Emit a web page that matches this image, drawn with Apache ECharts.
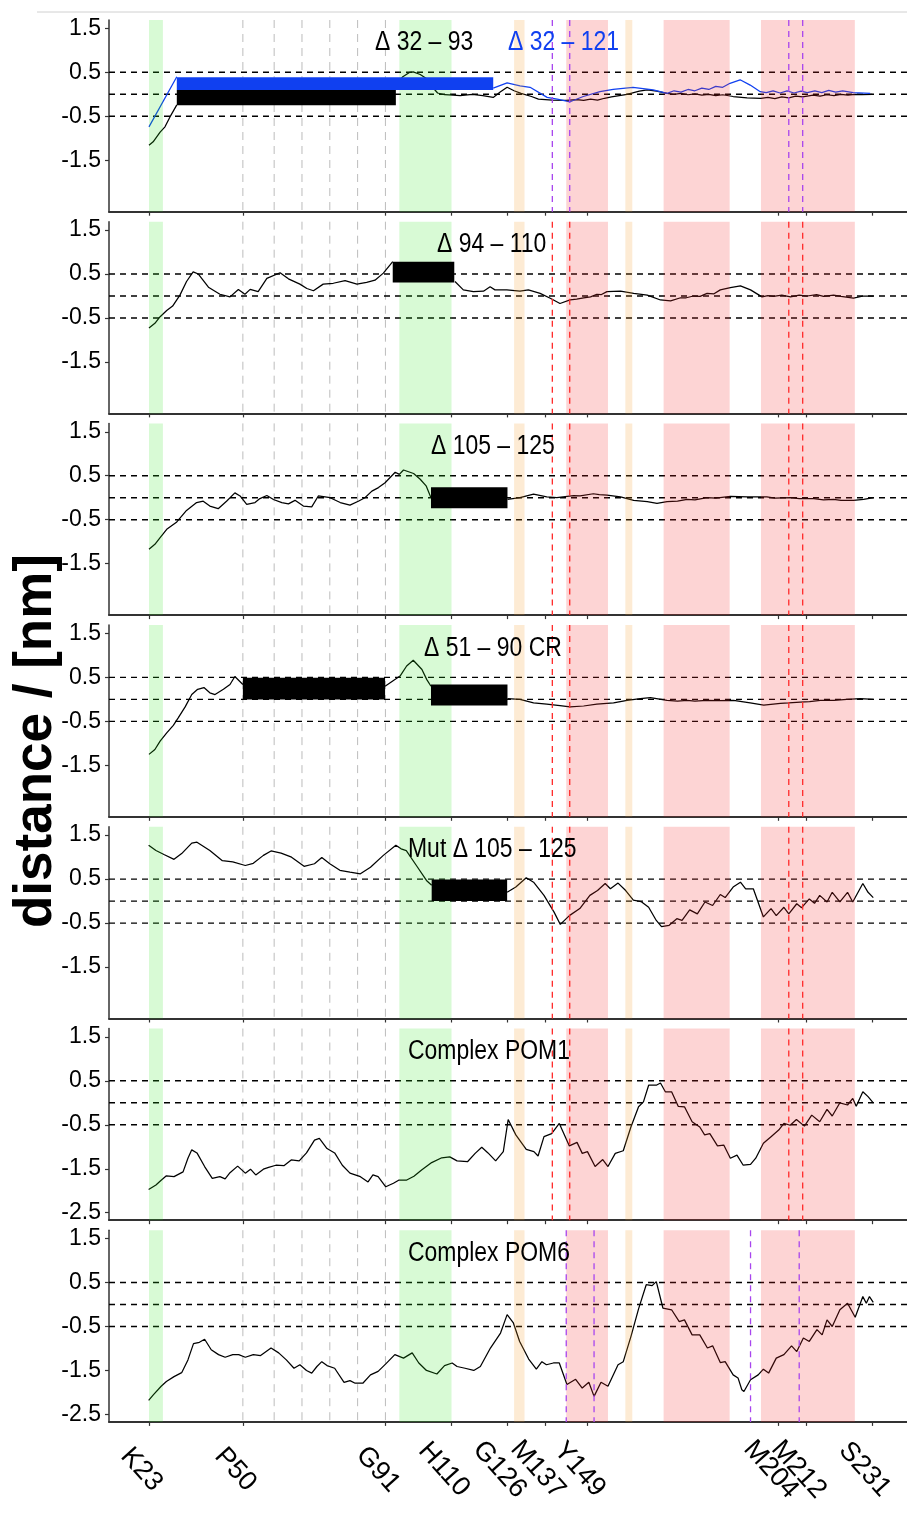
<!DOCTYPE html>
<html><head><meta charset="utf-8">
<script src="https://cdn.jsdelivr.net/npm/echarts@6/dist/echarts.min.js"></script>
<style>html,body{margin:0;padding:0;background:#fff}#c{width:907px;height:1516px}</style>
</head><body><div id="c"></div>
<script>
// ---------- data ----------
const tickResidues = [23,50,91,110,126,137,149,204,212,231];
const tickNames = ['K23','P50','G91','H110','G126','M137','Y149','M204','M212','S231'];
const yTicks = [1.5,0.5,-0.5,-1.5];
const yTicksPOM = [1.5,0.5,-0.5,-1.5,-2.5];
const refLines = [0.5,0,-0.5];
const octarepeats = [50,59,67,75,83,91];
const greenBands = [[23,27],[95,110]];
const orangeBands = [[128,131],[160,162]];
const pinkBands = [[143,155],[171,190],[199,226]];
const markersA = [139,144,207,211];
const markersB = [143,151,196,210];
const panelTitles = ['Δ 32 – 93','Δ 94 – 110','Δ 105 – 125','Δ 51 – 90 CR','Mut Δ 105 – 125','Complex POM1','Complex POM6'];
const blueTitle = 'Δ 32 – 121';

const p1Black = [[23,-1.16],[24.2,-1.08],[26.2,-0.86],[27.6,-0.74],[29,-0.52],[31,-0.24],[62,null],
 [94,0.2],[96,0.4],[98,0.5],[99,0.51],[101,0.45],[103,0.35],[105,0.12],[106,0.03],[108,-0.01],[110.5,-0.02],[112.5,-0.03],[116,0.0],[119,-0.03],[122,-0.07],[124,0.05],[126,0.16],[128,0.08],[130,0.02],[133,-0.05],[135,-0.11],[139,-0.13],[143,-0.14],[146,-0.12],[148,-0.14],[150,-0.11],[152,-0.13],[154,-0.09],[156,-0.06],[160.5,0.0],[164,0.07],[166.3,0.1],[169,0.07],[172,0.02],[174,0.0],[176,0.02],[178,-0.01],[180,0.01],[182,-0.02],[184,0.0],[186,-0.03],[188,-0.01],[191,-0.05],[195,-0.08],[199,-0.09],[201,-0.07],[203,-0.1],[205,-0.06],[207,-0.08],[209,-0.04],[211,-0.06],[214,-0.02],[216,-0.04],[218,-0.01],[220,-0.03],[222,0.0],[224,-0.02],[226,0.0],[228,-0.01],[231,0.0]];
const p1Blue = [[23,-0.74],[31,0.4],[76,null],
 [122,0.14],[126,0.26],[129.7,0.19],[132.6,0.16],[137.5,-0.07],[140.4,-0.11],[144.1,-0.17],[147.9,-0.05],[152.7,0.06],[156.5,0.11],[162.2,0.16],[168,0.1],[172,0.02],[174,0.08],[176,0.05],[178,0.11],[180,0.08],[182,0.14],[184,0.11],[186,0.18],[188,0.16],[190.1,0.25],[193,0.33],[195.9,0.21],[198.8,0.06],[200.5,0.04],[202.5,0.08],[204.5,0.03],[206.5,0.08],[208.5,0.03],[210.5,0.07],[212.3,0.04],[214.5,0.08],[216.5,0.04],[218.5,0.09],[220.5,0.05],[222.5,0.08],[225.5,0.04],[230.4,0.02]];
const p2Line = [[23,-0.73],[24.7,-0.62],[26.2,-0.47],[28.1,-0.33],[29.8,-0.23],[31.9,0.02],[33.8,0.33],[35.7,0.55],[37.2,0.5],[40.1,0.2],[43.4,0.04],[46.3,-0.02],[48.7,0.15],[50.6,0.04],[52.1,0.15],[54.4,0.1],[56.9,0.4],[60.7,0.53],[63.1,0.39],[66.4,0.27],[68.4,0.17],[70.3,0.12],[73.1,0.27],[76,0.29],[79.4,0.35],[82.8,0.27],[85.6,0.31],[88,0.36],[90.4,0.52],[93.1,0.78],[102,null],
 [111,0.33],[113.4,0.14],[116.3,0.1],[119.2,0.11],[121.1,0.21],[122.5,0.14],[125.9,0.14],[129.7,0.11],[132.1,0.14],[135.5,0.06],[138.4,-0.05],[141.2,-0.17],[144.1,-0.09],[146,-0.07],[148,-0.04],[150,-0.02],[151.8,0.04],[153,0.03],[154.7,0.1],[158.6,0.11],[162.4,0.06],[166.3,0.02],[170.1,-0.09],[173,-0.11],[175.9,-0.04],[177.5,-0.04],[179.6,0],[181.5,-0.01],[183.5,0.06],[185.5,0.05],[187.3,0.14],[190.2,0.19],[193.1,0.23],[196,0.14],[199.3,-0.02],[201,0.01],[202.6,-0.01],[205,0.02],[207.5,-0.02],[210,0.02],[212.3,0.0],[215,0.03],[217,-0.01],[219.9,0.02],[222,-0.01],[225.6,-0.05],[228.5,0],[231.4,0]];
const p3Line = [[23,-1.17],[24.7,-1.06],[26.2,-0.91],[28.1,-0.72],[31,-0.55],[33.8,-0.29],[36.7,-0.11],[38.6,-0.08],[40.5,-0.19],[42.9,-0.25],[45.3,-0.08],[47.7,0.11],[49.2,0.04],[51.1,-0.15],[53.5,-0.11],[54.9,-0.02],[56.9,0.05],[58.8,-0.04],[61.2,-0.11],[63.1,-0.14],[65,-0.06],[67.4,-0.19],[69.8,-0.21],[71.7,0.04],[75.1,0],[78,-0.11],[80.8,-0.17],[83.2,-0.08],[85.1,0],[87.1,0.15],[89,0.23],[90.9,0.34],[93.8,0.58],[95,0.53],[96.2,0.63],[99.1,0.55],[101,0.42],[102.7,0.27],[104.1,0],[115,null],
 [126.1,-0.04],[129.7,0],[133.6,0.08],[137.4,0.02],[140.3,0],[145.1,0.05],[147,0.04],[150.8,0.09],[152.5,0.07],[154.7,0.06],[158.6,0.02],[162.4,-0.06],[166.3,-0.09],[169.1,-0.13],[172,-0.09],[175,-0.08],[177.8,-0.04],[180,-0.05],[183.5,0],[186,-0.01],[190.2,0.03],[195,0.02],[200.7,0.02],[203,-0.01],[207.5,0],[210,-0.02],[214.2,-0.02],[217,-0.05],[219.9,-0.04],[222,-0.06],[225.6,-0.06],[228.5,-0.04],[231.4,0]];
const p4Line = [[23,-1.25],[24.7,-1.14],[26.2,-0.95],[28.1,-0.76],[30,-0.59],[31.4,-0.42],[33.4,-0.17],[35.3,0.11],[37,0.23],[38.8,0.27],[40.5,0.15],[42,0.11],[44.4,0.23],[46.3,0.34],[47.7,0.52],[50,0.34],[70,null],
 [90.9,0.3],[93.1,0.42],[95.2,0.53],[97.1,0.76],[99,0.89],[101.5,0.68],[102.9,0.45],[104.1,0.3],[115,null],
 [126.1,0.02],[129.7,0],[133.6,-0.08],[137.4,-0.11],[141.2,-0.14],[144.1,-0.17],[148,-0.15],[151.8,-0.11],[156.6,-0.08],[160.5,-0.02],[164.3,0.02],[167.2,0.04],[172,-0.02],[175,-0.04],[177.8,-0.02],[180,-0.04],[183.5,-0.02],[187,-0.03],[191.1,-0.02],[195.9,-0.08],[199.8,-0.13],[204.6,-0.09],[207,-0.08],[210.3,-0.06],[213,-0.05],[216.1,-0.02],[220,-0.02],[223.7,0],[227.6,0.02],[231.4,0]];
const p5Line = [[22.9,1.27],[25,1.15],[27.3,1.06],[30.2,0.95],[32.4,1.08],[35.3,1.32],[36.8,1.34],[40.5,1.15],[44.1,0.92],[47.1,0.89],[50.7,0.81],[53,0.86],[55.9,1.04],[58.1,1.14],[61,1.09],[64,1.0],[67.6,0.79],[70.6,0.85],[72.7,0.99],[75,0.85],[77.9,0.7],[80.8,0.66],[83.8,0.62],[86.7,0.77],[90.4,1.04],[94,1.27],[95.5,1.19],[97,1.15],[99.9,0.81],[102.8,0.47],[104.3,0.36],[115,null],
 [126,0.2],[128.5,0.32],[131.5,0.53],[133.6,0.43],[136.6,0.13],[139.5,-0.25],[141.3,-0.53],[143.9,-0.33],[146.9,-0.17],[149.8,0.13],[152,0.24],[154.2,0.4],[155.7,0.28],[157.9,0.41],[160.1,0.24],[162.3,0.02],[164.5,-0.01],[166.7,-0.14],[168.9,-0.44],[170.4,-0.58],[172.6,-0.55],[174.8,-0.4],[176.3,-0.44],[178.5,-0.2],[180.7,-0.29],[182.9,-0.02],[185.1,-0.1],[187.3,0.15],[188.7,0.08],[191,0.32],[193.1,0.43],[194.6,0.28],[196.8,0.28],[199.7,-0.36],[201.9,-0.17],[203.4,-0.33],[205.6,-0.14],[207,-0.29],[209.3,-0.06],[210.7,-0.15],[212.9,0.05],[214.4,-0.05],[215.9,0.13],[218,-0.02],[219.5,0.2],[221.7,-0.02],[223.9,0.2],[225.4,-0.02],[228.3,0.4],[229.8,0.2],[231.3,0.08]];
const p6Line = [[22.9,-1.97],[25,-1.87],[26.5,-1.76],[28,-1.66],[30.2,-1.68],[32.8,-1.57],[34.2,-1.26],[35.3,-1.07],[36.8,-1.14],[39,-1.45],[41.2,-1.72],[43.4,-1.68],[44.9,-1.73],[46.3,-1.59],[48.5,-1.44],[50.7,-1.6],[52.2,-1.51],[53.7,-1.64],[55.9,-1.51],[57.4,-1.47],[59.5,-1.42],[61.8,-1.43],[63.9,-1.3],[66.2,-1.32],[68.3,-1.14],[70.6,-0.85],[72,-0.81],[74.2,-1.04],[76.4,-1.14],[78.6,-1.42],[80.8,-1.6],[83.8,-1.68],[86,-1.8],[87.4,-1.64],[88.9,-1.68],[91.1,-1.91],[93.3,-1.83],[94.8,-1.76],[97,-1.76],[99.2,-1.67],[101.4,-1.53],[104.3,-1.36],[107.2,-1.25],[109.5,-1.23],[111.6,-1.32],[114.6,-1.34],[116.8,-1.15],[118.7,-1.01],[120.5,-1.14],[122.7,-1.32],[124.9,-1.11],[126.3,-0.38],[128.5,-0.73],[131.5,-1.06],[133.7,-1.11],[134.9,-1.21],[136.6,-0.77],[138.8,-0.7],[141,-0.47],[143.9,-0.98],[146.1,-0.9],[147.6,-1.15],[149.1,-1.11],[151.3,-1.45],[153.5,-1.29],[155,-1.45],[157.1,-1.15],[159.4,-1.09],[161.6,-0.55],[163.8,-0.09],[165.2,0.02],[166.7,0.4],[168.9,0.4],[170.1,0.45],[171.5,0.25],[173.3,0.25],[175.2,-0.08],[177,-0.09],[179.2,-0.43],[181.4,-0.55],[182.8,-0.73],[184.3,-0.7],[186.5,-0.98],[188.3,-0.96],[190.2,-1.26],[192.1,-1.19],[193.9,-1.42],[196,-1.4],[197.5,-1.26],[199.7,-0.92],[201.9,-0.77],[204.1,-0.62],[205.6,-0.47],[207.4,-0.51],[209.2,-0.38],[211.5,-0.53],[213.6,-0.28],[215.9,-0.43],[218,-0.15],[219.5,-0.3],[221.7,0],[223.9,-0.05],[225.4,0.1],[226.4,-0.08],[228.3,0.25],[229.8,0.14],[231.3,0]];
const p7Line = [[22.9,-2.18],[24.3,-2.05],[26.5,-1.86],[28,-1.75],[30.2,-1.64],[32.4,-1.55],[34.2,-1.26],[35.8,-0.89],[37.5,-0.86],[39,-0.79],[40.9,-1.03],[43,-1.14],[44.9,-1.2],[47.1,-1.14],[48.8,-1.14],[50.7,-1.2],[53,-1.14],[55.1,-1.16],[58.1,-0.99],[60.3,-1.1],[62.5,-1.26],[64.7,-1.45],[66.4,-1.37],[68.3,-1.5],[69.8,-1.56],[71.3,-1.41],[72.7,-1.3],[74.2,-1.39],[76.4,-1.45],[79.1,-1.77],[80.8,-1.73],[82.3,-1.79],[84.5,-1.79],[86.7,-1.6],[88.9,-1.52],[91.1,-1.35],[93.7,-1.14],[96.2,-1.22],[98.7,-1.1],[100.6,-1.33],[102.8,-1.5],[105.8,-1.58],[108,-1.39],[110.2,-1.33],[111.6,-1.41],[113.9,-1.45],[116.4,-1.5],[118.3,-1.41],[121.2,-0.99],[124.1,-0.65],[126,-0.23],[127.8,-0.42],[129.6,-0.84],[132.2,-1.24],[134.4,-1.47],[136,-1.3],[137.3,-1.37],[139.3,-1.33],[141,-1.33],[143.2,-1.82],[145.7,-1.7],[147.6,-1.9],[149.5,-1.77],[151,-2.09],[153,-1.77],[155,-1.86],[157.9,-1.37],[159.4,-1.3],[161.6,-0.73],[163.8,-0.1],[166,0.45],[167.7,0.43],[168.9,0.52],[170.8,-0.08],[173.3,-0.12],[175.5,-0.39],[177,-0.35],[179.2,-0.69],[181.4,-0.69],[183.6,-0.99],[185.1,-0.94],[187.3,-1.32],[188.7,-1.3],[191,-1.6],[192.4,-1.67],[193.5,-1.94],[194.1,-1.98],[196,-1.71],[198.2,-1.6],[199.7,-1.47],[201.2,-1.56],[203.4,-1.22],[205.6,-1.14],[207.8,-0.94],[209.3,-1.07],[211.2,-0.76],[212.9,-0.84],[215.1,-0.57],[216.6,-0.69],[218,-0.35],[219.5,-0.5],[221.7,-0.12],[223.9,0.03],[226.1,-0.29],[228.3,0.18],[229.3,0.03],[230.2,0.18],[231.3,0.05]];

// deletion boxes: [fromResidue, toResidue, lowValue, highValue]
const p1BlackBoxes = [[31,94,-0.25,0.1]];
const p1BlueBoxes = [[31,122,0.1,0.39]];
const p2Boxes = [[93.1,110.8,0.31,0.78]];
const p3Boxes = [[104.1,126.1,-0.24,0.24]];
const p4Boxes = [[50,90.9,0,0.49],[104.1,126.1,-0.14,0.34]];
const p5Boxes = [[104.3,126,0,0.49]];

// ---------- chart ----------
const FONT = '"Liberation Sans", Arial, Helvetica, sans-serif';
const panelLines = [p1Black, p2Line, p3Line, p4Line, p5Line, p6Line, p7Line];
const panelBoxes = [p1BlackBoxes, p2Boxes, p3Boxes, p4Boxes, p5Boxes, [], []];
const N = 7, TOP0 = 20, PITCH = 201.7, H = 191.7, LEFT = 109, W = 798;
const RED = '#ff2a2a', PURPLE = '#a845ee', BLUE = '#1040f0';

const grids = [], xAxes = [], yAxes = [], series = [];

function bandSeries(i, data, color) {
  return {
    type: 'custom', xAxisIndex: i, yAxisIndex: i, z: 3, silent: true, animation: false,
    data: data,
    renderItem: function (params, api) {
      const a = api.coord([api.value(0), 0]);
      const b = api.coord([api.value(1), 0]);
      const cs = params.coordSys;
      return { type: 'rect', shape: { x: a[0], y: cs.y, width: b[0] - a[0], height: cs.height }, style: { fill: color } };
    }
  };
}
function boxSeries(i, data, color) {
  return {
    type: 'custom', xAxisIndex: i, yAxisIndex: i, z: 4, silent: true, animation: false,
    data: data,
    renderItem: function (params, api) {
      const a = api.coord([api.value(0), api.value(3)]);
      const b = api.coord([api.value(1), api.value(2)]);
      return { type: 'rect', shape: { x: a[0], y: a[1], width: b[0] - a[0], height: b[1] - a[1] }, style: { fill: color } };
    }
  };
}
function vLineSeries(i, residues, color, dash, width, z) {
  return {
    type: 'custom', xAxisIndex: i, yAxisIndex: i, z: z, silent: true, animation: false,
    data: residues.map(r => [r, 0]),
    renderItem: function (params, api) {
      const p = api.coord([api.value(0), 0]);
      const cs = params.coordSys;
      return { type: 'line', shape: { x1: p[0], y1: cs.y, x2: p[0], y2: cs.y + cs.height },
        style: { stroke: color, lineWidth: width, lineDash: dash } };
    }
  };
}
function hLineSeries(i, values, color, dash, width, z) {
  return {
    type: 'custom', xAxisIndex: i, yAxisIndex: i, z: z, silent: true, animation: false,
    data: values.map(v => [100, v]),
    renderItem: function (params, api) {
      const p = api.coord([api.value(0), api.value(1)]);
      const cs = params.coordSys;
      return { type: 'line', shape: { x1: cs.x, y1: p[1], x2: cs.x + cs.width, y2: p[1] },
        style: { stroke: color, lineWidth: width, lineDash: dash } };
    }
  };
}

for (let i = 0; i < N; i++) {
  const top = TOP0 + PITCH * i;
  grids.push({ left: LEFT, top: top, width: W, height: H, containLabel: false, outerBoundsMode: 'none' });
  const last = i === N - 1;
  xAxes.push({
    gridIndex: i, type: 'value', min: 11.5, max: 241,
    axisLine: { show: true, onZero: false, lineStyle: { color: '#333', width: 2 } },
    axisTick: { show: true, customValues: tickResidues, length: 4, lineStyle: { color: '#333', width: 1.2 } },
    axisLabel: {
      show: last, customValues: tickResidues, rotate: -48, align: 'center', verticalAlign: 'middle',
      margin: 56, fontSize: 27, color: '#000', fontFamily: FONT,
      formatter: function (v) { const k = tickResidues.indexOf(Math.round(v)); return k >= 0 ? tickNames[k] + '   ' : ''; }
    },
    splitLine: { show: false }
  });
  const yt = i >= 5 ? yTicksPOM : yTicks;
  yAxes.push({
    gridIndex: i, type: 'value', min: -2.67, max: 1.69,
    axisLine: { show: true, onZero: false, lineStyle: { color: '#333', width: 1.5 } },
    axisTick: { show: true, customValues: yt, length: 4, lineStyle: { color: '#333', width: 1.2 } },
    axisLabel: { customValues: yt, margin: 8, fontSize: 23, color: '#000', fontFamily: FONT,
      formatter: function (v) { return v.toFixed(1); } },
    splitLine: { show: false }
  });

  series.push(vLineSeries(i, octarepeats, '#bcbcbc', [8, 6], 1, 1));
  series.push(hLineSeries(i, refLines, '#000', [6, 5], 1.4, 1));
  series.push({
    type: 'line', xAxisIndex: i, yAxisIndex: i, data: panelLines[i], z: 2,
    showSymbol: false, symbol: 'none', connectNulls: false, animation: false, silent: true,
    lineStyle: { color: '#000', width: 1.25 }
  });
  if (i === 0) {
    series.push({
      type: 'line', xAxisIndex: 0, yAxisIndex: 0, data: p1Blue, z: 2,
      showSymbol: false, symbol: 'none', connectNulls: false, animation: false, silent: true,
      lineStyle: { color: BLUE, width: 1.25 }
    });
  }
  series.push(bandSeries(i, greenBands, 'rgba(40,230,20,0.18)'));
  series.push(bandSeries(i, orangeBands, 'rgba(245,155,40,0.2)'));
  series.push(bandSeries(i, pinkBands, 'rgba(245,40,40,0.2)'));
  if (panelBoxes[i].length) series.push(boxSeries(i, panelBoxes[i], '#000'));
  if (i === 0) series.push(boxSeries(0, p1BlueBoxes, BLUE));
  const mk = i === 6 ? markersB : markersA;
  const mc = (i === 0 || i === 6) ? PURPLE : RED;
  series.push(vLineSeries(i, mk, mc, [6, 5], 1.3, 5));
}

const titleLeft = [375, 437, 431, 424, 408, 408, 408];
const graphics = [
  { type: 'line', shape: { x1: 37, y1: 12, x2: 907, y2: 12 }, style: { stroke: '#d0d0d0', lineWidth: 1 }, silent: true },
  { type: 'text', x: 36, y: 741, rotation: Math.PI / 2, silent: true,
    style: { text: 'distance / [nm]', font: 'bold 53px ' + FONT, fill: '#000', align: 'center', verticalAlign: 'middle', textAlign: 'center', textVerticalAlign: 'middle' } }
];
for (let i = 0; i < N; i++) {
  graphics.push({ type: 'text', x: titleLeft[i], y: TOP0 + PITCH * i + 23, scaleX: 0.85, z: 100, silent: true,
    style: { text: panelTitles[i], font: '27px ' + FONT, fill: '#000', verticalAlign: 'middle', textVerticalAlign: 'middle' } });
}
graphics.push({ type: 'text', x: 508, y: TOP0 + 23, scaleX: 0.85, z: 100, silent: true,
  style: { text: blueTitle, font: '27px ' + FONT, fill: BLUE, verticalAlign: 'middle', textVerticalAlign: 'middle' } });

const chart = echarts.init(document.getElementById('c'), null, { renderer: 'canvas' });
chart.setOption({
  animation: false,
  backgroundColor: '#fff',
  grid: grids, xAxis: xAxes, yAxis: yAxes, series: series,
  graphic: { elements: graphics }
});
</script></body></html>
